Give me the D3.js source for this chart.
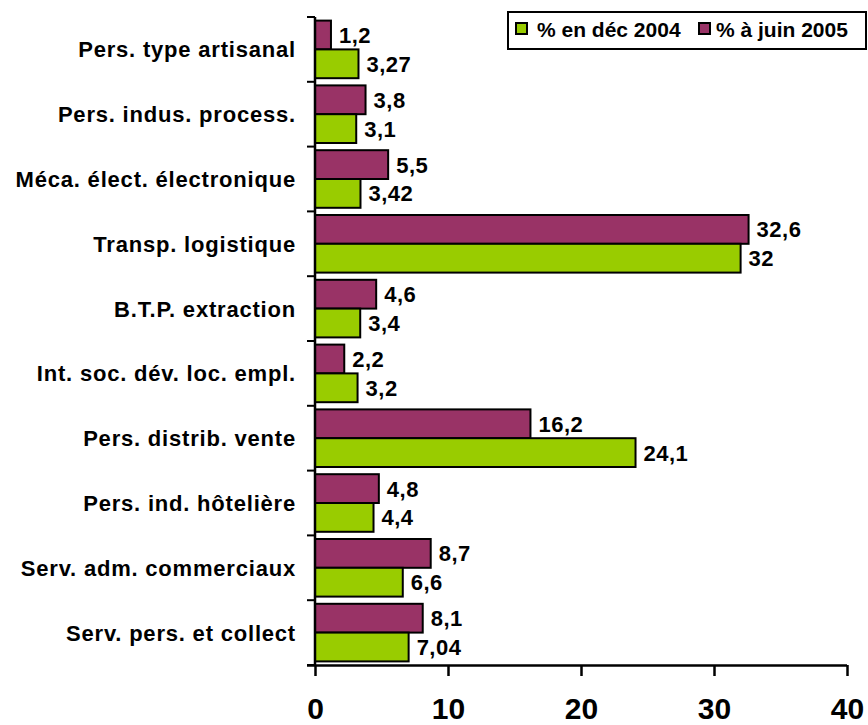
<!DOCTYPE html>
<html>
<head>
<meta charset="utf-8">
<script src="https://cdn.jsdelivr.net/npm/d3@7"></script>
<style>
  html, body { margin: 0; padding: 0; background: #fff; }
  svg { display: block; }
  text { font-family: "Liberation Sans", Arial, sans-serif; font-weight: bold; fill: #000; }
</style>
</head>
<body>
<script>
// Répartition par domaine professionnel
const categories = [
  "Pers. type artisanal",
  "Pers. indus. process.",
  "Méca. élect. électronique",
  "Transp. logistique",
  "B.T.P. extraction",
  "Int. soc. dév. loc. empl.",
  "Pers. distrib. vente",
  "Pers. ind. hôtelière",
  "Serv. adm. commerciaux",
  "Serv. pers. et collect"
];
const juin2005 = [1.2, 3.8, 5.5, 32.6, 4.6, 2.2, 16.2, 4.8, 8.7, 8.1];
const dec2004  = [3.27, 3.1, 3.42, 32, 3.4, 3.2, 24.1, 4.4, 6.6, 7.04];
const seriesNames = ["% en déc 2004", "% à juin 2005"];
const xTicks = [0, 10, 20, 30, 40];

const W = 868, H = 725;
const plotL = 315, plotR = 847, plotT = 17, plotB = 665;
const colGreen = "#99cc00", colPurple = "#993366";

const svg = d3.select("body").append("svg").attr("width", W).attr("height", H);

const x = d3.scaleLinear().domain([0, 40]).range([plotL, plotR]);
const y = d3.scaleBand().domain(categories).range([plotT, plotB]).padding(0);
const inner = d3.scaleBand().domain(["juin", "dec"]).range([0, y.bandwidth()]).paddingOuter(0.125).paddingInner(0);

const fmt = v => String(v).replace(".", ",");

const rows = categories.map((c, i) => ({ c, juin: juin2005[i], dec: dec2004[i] }));

const g = svg.append("g");
const groups = g.selectAll("g.cat").data(rows).join("g")
  .attr("transform", d => `translate(0,${y(d.c)})`);

[["juin", colPurple], ["dec", colGreen]].forEach(([key, col]) => {
  groups.append("rect")
    .attr("x", x(0))
    .attr("y", inner(key))
    .attr("width", d => x(d[key]) - x(0))
    .attr("height", inner.bandwidth())
    .attr("fill", col)
    .attr("stroke", "#000")
    .attr("stroke-width", 2);
  groups.append("text")
    .attr("x", d => x(d[key]) + 8)
    .attr("y", inner(key) + inner.bandwidth() / 2)
    .attr("dy", "0.36em")
    .attr("font-size", 22)
    .attr("letter-spacing", 0.5)
    .text(d => fmt(d[key]));
});

// category axis
const yAxis = d3.axisLeft(y).tickSize(0).tickPadding(19).tickFormat(d => d);
const ya = svg.append("g").attr("transform", `translate(${plotL},0)`).call(yAxis);
ya.select(".domain").remove();
ya.selectAll("text")
  .attr("font-size", 22)
  .attr("letter-spacing", 0.8)
  .attr("dy", "0.36em")
  .style("font-family", "'Liberation Sans', Arial, sans-serif")
  .style("font-weight", "bold")
  .attr("fill", "#000");

// category separators
const sepPos = categories.map(c => y(c)).concat([plotB]);
svg.append("g").selectAll("line").data(sepPos).join("line")
  .attr("x1", plotL - 8).attr("x2", plotL)
  .attr("y1", d => d).attr("y2", d => d)
  .attr("stroke", "#000").attr("stroke-width", 2);
svg.append("line")
  .attr("x1", plotL).attr("x2", plotL).attr("y1", plotT).attr("y2", plotB)
  .attr("stroke", "#000").attr("stroke-width", 2.5);

// value axis
const xAxis = d3.axisBottom(x).tickValues(xTicks).tickSize(11).tickPadding(22).tickFormat(d3.format("d"));
const xa = svg.append("g").attr("transform", `translate(0,${plotB})`).call(xAxis);
xa.select(".domain").attr("d", `M${plotL - 8},0.5H${plotR}`).attr("stroke", "#000").attr("stroke-width", 2.5);
xa.selectAll(".tick line").attr("stroke", "#000").attr("stroke-width", 2.5);
xa.selectAll("text")
  .attr("font-size", 30)
  .style("font-family", "'Liberation Sans', Arial, sans-serif")
  .style("font-weight", "bold")
  .attr("fill", "#000");

// legend
const lg = svg.append("g");
lg.append("rect").attr("x", 508).attr("y", 12).attr("width", 358).attr("height", 37)
  .attr("fill", "#fff").attr("stroke", "#000").attr("stroke-width", 2);
const legendItems = [
  { name: seriesNames[0], col: colGreen, sx: 516, tx: 537 },
  { name: seriesNames[1], col: colPurple, sx: 699, tx: 716 }
];
legendItems.forEach(it => {
  lg.append("rect").attr("x", it.sx).attr("y", 23).attr("width", 11).attr("height", 11)
    .attr("fill", it.col).attr("stroke", "#000").attr("stroke-width", 2);
  lg.append("text").attr("x", it.tx).attr("y", 36.5).attr("font-size", 21).text(it.name);
});
</script>
</body>
</html>
